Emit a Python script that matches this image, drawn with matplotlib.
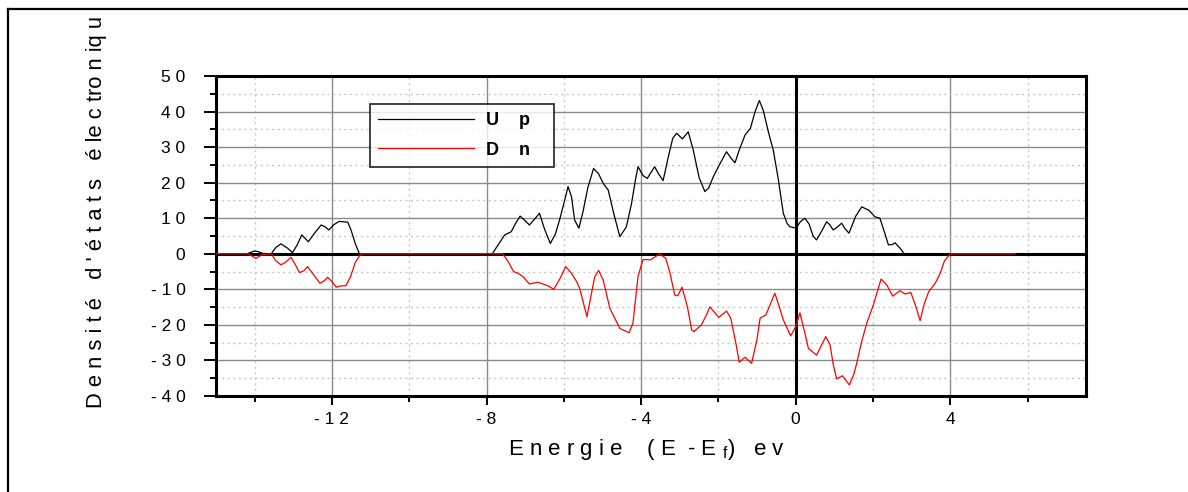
import matplotlib
matplotlib.use("Agg")
import matplotlib.pyplot as plt
from matplotlib.ticker import MultipleLocator, FixedLocator, FuncFormatter
from matplotlib.lines import Line2D
from matplotlib import font_manager

names = {f.name for f in font_manager.fontManager.ttflist}
fam = [n for n in ['Liberation Sans', 'DejaVu Sans'] if n in names]
plt.rcParams['font.family'] = fam

# ---- data ----
up_x = [-15, -14.2, -14.1, -14.0, -13.9, -13.8, -13.57, -13.45, -13.32, -13.15, -13.02, -12.9,
        -12.78, -12.7, -12.61, -12.45, -12.28, -12.18, -12.08, -11.95, -11.81, -11.7, -11.59,
        -11.5, -11.4, -11.29, -7.85, -7.7, -7.53, -7.36, -7.25, -7.13, -7.0, -6.89, -6.75,
        -6.63, -6.5, -6.35, -6.22, -6.11, -5.99, -5.89, -5.8, -5.72, -5.61, -5.5, -5.38,
        -5.23, -5.1, -4.98, -4.85, -4.7, -4.55, -4.38, -4.25, -4.15, -4.08, -3.95, -3.84,
        -3.65, -3.55, -3.43, -3.3, -3.18, -3.08, -2.93, -2.78, -2.65, -2.5, -2.35, -2.25,
        -2.13, -1.95, -1.79, -1.68, -1.57, -1.45, -1.31, -1.17, -1.05, -0.94, -0.84, -0.7,
        -0.58, -0.45, -0.32, -0.22, -0.15, 0.01, 0.12, 0.24, 0.35, 0.45, 0.54, 0.68, 0.80,
        0.88, 0.97, 1.08, 1.19, 1.28, 1.38, 1.55, 1.71, 1.9, 2.05, 2.18, 2.3, 2.40, 2.5,
        2.57, 2.7, 2.81, 5.7]
up_y = [0, 0, 0.4, 0.8, 0.6, 0.1, 0, 1.8, 2.8, 1.6, 0.3, 2.5,
        5.3, 4.4, 3.4, 5.8, 8.1, 7.6, 6.7, 8.2, 9.1, 9.0, 8.9,
        6.5, 3.0, 0, 0, 2.5, 5.3, 6.2, 8.5, 10.6, 9.3, 8.1, 9.8,
        11.4, 7.0, 2.9, 5.5, 9.5, 14.5, 18.9, 16.0, 9.5, 7.2, 12.0, 18.5,
        24.0, 22.5, 19.8, 17.9, 11.0, 4.8, 7.6, 14.0, 20.5, 24.5, 22.0, 21.2,
        24.5, 22.5, 20.6, 27.0, 32.5, 33.9, 32.3, 34.3, 29.2, 21.5, 17.5, 18.5,
        21.7, 25.5, 28.7, 27.0, 25.6, 29.5, 33.4, 35.3, 40.0, 43.1, 40.4, 34.0,
        29.2, 21.0, 11.4, 8.5, 7.6, 7.2, 9.0, 10.0, 8.3, 5.0, 3.9, 6.5, 9.0,
        8.2, 6.7, 7.5, 8.6, 7.0, 5.8, 10.5, 13.2, 12.2, 10.4, 10.0, 6.0, 2.5, 2.6,
        3.1, 1.6, 0, 0]

dn_x = [-15, -14.17, -13.97, -13.8, -13.57, -13.45, -13.32, -13.2, -13.06, -12.95, -12.84,
        -12.73, -12.63, -12.48, -12.31, -12.2, -12.11, -12.0, -11.89, -11.75, -11.64, -11.52,
        -11.4, -11.25, -7.58, -7.45, -7.3, -7.18, -7.05, -6.89, -6.67, -6.41, -6.26, -6.1,
        -5.95, -5.8, -5.67, -5.59, -5.5, -5.40, -5.3, -5.2, -5.10, -4.98, -4.81, -4.55,
        -4.31, -4.21, -4.08, -3.95, -3.76, -3.6, -3.52, -3.36, -3.25, -3.13, -3.05, -2.94,
        -2.8, -2.69, -2.63, -2.44, -2.3, -2.22, -2.1, -1.99, -1.79, -1.68, -1.55, -1.46,
        -1.31, -1.14, -1.0, -0.92, -0.77, -0.65, -0.54, -0.42, -0.32, -0.13, 0.0, 0.11,
        0.22, 0.33, 0.54, 0.78, 0.89, 0.97, 1.06, 1.21, 1.39, 1.5, 1.58, 1.7, 1.84, 2.01,
        2.21, 2.36, 2.51, 2.70, 2.83, 2.98, 3.1, 3.22, 3.33, 3.44, 3.61, 3.74, 3.85, 4.0,
        5.68]
dn_y = [0, 0, -1.3, -0.2, 0, -2.0, -3.1, -2.4, -1.0, -3.0, -5.3,
        -4.8, -3.6, -5.8, -8.3, -7.6, -6.6, -7.8, -9.4, -9.0, -9.0, -6.5,
        -2.5, 0, 0, -2.0, -5.0, -5.5, -6.5, -8.5, -8.0, -9.0, -10.0, -7.0,
        -3.6, -5.5, -7.8, -9.7, -13.5, -17.7, -12.0, -6.5, -4.7, -7.4, -15.3, -21.0,
        -22.2, -19.5, -6.4, -1.6, -1.7, -0.6, 0, -1.3, -5.5, -11.6, -11.8, -9.4,
        -15.0, -21.4, -21.9, -20.0, -17.0, -14.9, -16.5, -17.9, -16.1, -18.1, -25.0, -30.5,
        -29.1, -30.8, -24.0, -18.1, -17.2, -14.0, -11.1, -15.0, -18.6, -23.1, -20.5, -16.6,
        -21.5, -26.6, -28.5, -23.3, -25.6, -31.0, -35.2, -34.3, -36.9, -34.0, -30.8, -25.0, -19.5, -14.4,
        -7.1, -8.8, -11.9, -10.4, -11.3, -10.9, -14.5, -18.8, -14.0, -10.7, -8.3, -5.5, -2.0, 0,
        0]

series_labels = ["U    p   ", "D    n   "]
x_major_ticks = [-12, -8, -4, 0, 4]
y_major_ticks = [50, 40, 30, 20, 10, 0, -10, -20, -30, -40]

W, H = 1188, 492
fig = plt.figure(figsize=(W / 100, H / 100), dpi=100)
ax = fig.add_axes([216 / W, 1 - 396 / H, (1085.5 - 216) / W, (396 - 76) / H])

ax.set_xlim(-15, 7.5)
ax.set_ylim(-40, 50)

# grid
ax.xaxis.set_major_locator(FixedLocator(x_major_ticks))
ax.xaxis.set_minor_locator(MultipleLocator(2))
ax.yaxis.set_major_locator(FixedLocator(y_major_ticks))
ax.yaxis.set_minor_locator(MultipleLocator(5))
ax.grid(which='major', color='#8a8a8a', lw=1.0, ls='-', zorder=0)
ax.grid(which='minor', color='#c8c8c8', lw=1.0, ls=(0, (1.5, 2.5)), zorder=0)
ax.set_axisbelow(True)

def spaced(v, pos):
    s = "%d" % round(v)
    return " ".join(s)

ax.xaxis.set_major_formatter(FuncFormatter(spaced))
ax.yaxis.set_major_formatter(FuncFormatter(spaced))

ax.tick_params(axis='y', which='major', direction='out', length=9, width=1.4, pad=13, labelsize=12.5)
ax.tick_params(axis='y', which='minor', direction='out', length=4.5, width=1.4)
ax.tick_params(axis='x', which='major', direction='out', length=6.5, width=1.4, pad=5, labelsize=12.5)
ax.tick_params(axis='x', which='minor', direction='out', length=4.5, width=1.4)

for s in ax.spines.values():
    s.set_linewidth(2.2)
    s.set_color('black')

# axis lines through origin
ax.axhline(0, color='black', lw=2.2, zorder=2)
ax.axvline(0, color='black', lw=2.2, zorder=2)

ax.plot(up_x, up_y, color='black', lw=0.9, zorder=3)
ax.plot(dn_x, dn_y, color='#ff0000', lw=0.9, zorder=4)

# legend
handles = [Line2D([], [], color='black', lw=0.9), Line2D([], [], color='#ff0000', lw=0.9)]
leg = fig.legend(handles, series_labels, loc='upper left',
                 bbox_to_anchor=(370 / W, 1 - 104 / H), borderaxespad=0.0,
                 frameon=True, fancybox=False,
                 edgecolor='black', handlelength=5.3, handletextpad=0.7, labelspacing=0.7,
                 borderpad=0.45, prop={'weight': 'bold', 'size': 13})
leg.get_frame().set_linewidth(1.3)

# axis labels
fig.text(646 / W, 1 - 449 / H,
         "E n e r g i e    ( E  - E $_\\mathregular{f}$)   e v",
         ha='center', va='center', fontsize=16)
fig.text(96 / W, 1 - 408 / H,
         "D e n s i t é   d ' é t a t s   é le c tro n iq u",
         rotation=90, rotation_mode='anchor', ha='left', va='center', fontsize=15.8)

# figure border (left and top lines)
fig.add_artist(Line2D([8 / W, 8 / W], [0, 1 - 9 / H], transform=fig.transFigure, color='black', lw=1.6))
fig.add_artist(Line2D([8 / W, 1], [1 - 9 / H, 1 - 9 / H], transform=fig.transFigure, color='black', lw=1.6))

fig.savefig("out.png", dpi=100)
